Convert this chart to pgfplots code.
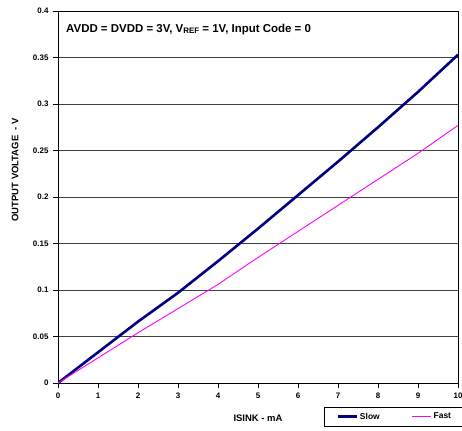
\documentclass[border=0pt]{standalone}
\usepackage{fontspec}
\setmainfont{Liberation Sans}
\usepackage{pgfplots}
\pgfplotsset{compat=1.18}
\definecolor{slowc}{HTML}{000080}
\definecolor{fastc}{HTML}{FF00FF}
\begin{document}
\begin{tikzpicture}[x=1bp,y=1bp]
\begin{axis}[
  at={(0,0)}, anchor=south west,
  scale only axis, width=400bp, height=372bp,
  xmin=0, xmax=10, ymin=0, ymax=0.4,
  xtick={0,1,2,3,4,5,6,7,8,9,10},
  ytick={0,0.05,0.1,0.15,0.2,0.25,0.3,0.35,0.4},
  yticklabels={0,0.05,0.1,0.15,0.2,0.25,0.3,0.35,0.4},
  xticklabels={0,1,2,3,4,5,6,7,8,9,10},
  tick align=outside, major tick length=5bp,
  xtick pos=bottom, ytick pos=left,
  ymajorgrids,
  major grid style={black!75, line width=0.7bp},
  axis line style={black, line width=0.9bp},
  tick style={black, line width=0.6bp},
  ticklabel style={font=\bfseries\fontsize{8}{9}\selectfont},
  xticklabel style={yshift=-1bp},
  yticklabel style={xshift=-1bp},
  xlabel={ISINK - mA},
  xlabel style={at={(axis description cs:0.5,-0.094)}, anchor=center, font=\bfseries\fontsize{9.5}{11}\selectfont},
  ylabel={OUTPUT VOLTAGE\ \ - V},
  ylabel style={at={(axis description cs:-0.1075,0.573)}, anchor=center, font=\bfseries\fontsize{9.5}{11}\selectfont},
  legend style={at={(axis description cs:0.665,-0.0645)}, anchor=north west,
    draw=black, line width=0.8bp, inner xsep=12bp, inner ysep=3.5bp,
    font=\bfseries\fontsize{8.5}{10}\selectfont, legend columns=2,
    /tikz/every even column/.append style={column sep=30bp}},
  legend image code/.code={\draw[#1] (0bp,0bp) -- (19bp,0bp);},
]
\addplot[slowc, line width=2.6bp] coordinates {
(0,0) (1,0.033) (2,0.066) (3,0.097) (4,0.131) (5,0.166)
(6,0.202) (7,0.238) (8,0.275) (9,0.313) (10,0.353)
};
\addlegendentry{Slow}
\addplot[fastc, line width=0.9bp] coordinates {
(0,0) (1,0.027) (2,0.054) (3,0.080) (4,0.106) (5,0.135)
(6,0.163) (7,0.191) (8,0.219) (9,0.247) (10,0.277)
};
\addlegendentry{Fast\hspace{24bp}}
\node[anchor=west, font=\bfseries\fontsize{11.5}{13}\selectfont, inner sep=0pt]
  at (axis description cs:0.02,0.949)
  {AVDD = DVDD = 3V, V\raisebox{-0.15ex}{\fontsize{8}{9}\selectfont REF} = 1V, Input Code = 0};
\end{axis}
\pgfresetboundingbox
\useasboundingbox (-58,-47) rectangle (404,383);
\end{tikzpicture}
\end{document}
